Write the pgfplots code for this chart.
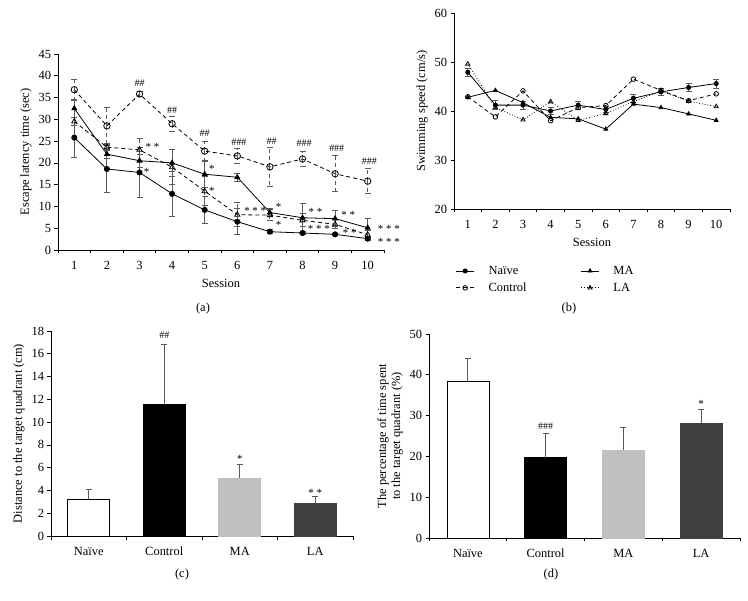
\documentclass[border=0pt]{standalone}
\usepackage{fontspec}
\setmainfont{Liberation Serif}
\usepackage{pgfplots}
\usepackage{pgfplotstable}
\pgfplotsset{compat=1.18}

\definecolor{errgray}{HTML}{5A5A5A}
\definecolor{lgray}{HTML}{C0C0C0}
\definecolor{dgray}{HTML}{404040}

% session means and errors, panel (a)
\pgfplotstableread{
s naive nerr ctrl cerr ma merr la lerr
1  25.8 4.6 36.8 2.4 32.5 2.0 29.5 1.0
2  18.6 5.3 28.5 4.2 22.0 1.0 23.6 0.8
3  17.8 5.7 35.8 0.6 20.5 1.5 23.0 2.6
4  12.9 5.1 29.0 1.7 20.0 3.0 19.0 4.0
5   9.2 3.0 22.7 2.3 17.4 3.1 13.5 3.3
6   6.5 3.0 21.6 1.7 16.7 0.9  8.1 2.8
7   4.2 0.5 19.1 4.4  8.6 1.0  8.0 1.3
8   3.9 0.4 20.9 1.7  7.4 3.2  6.8 1.5
9   3.6 0.3 17.5 4.1  7.2 1.9  5.9 1.0
10  2.6 0.4 15.8 2.9  5.1 2.2  3.5 1.0
}\latency

% swimming speed, panel (b)
\pgfplotstableread{
s naive nerr ctrl ma la
1  47.9 0.8 42.9 42.8 49.6
2  41.2 0.9 38.8 44.2 40.7
3  41.2 0.8 44.1 41.7 38.2
4  40.0 0.7 38.0 38.7 41.9
5  41.2 0.8 40.7 38.4 38.1
6  40.3 0.6 41.1 36.3 39.5
7  42.6 0.8 46.5 41.4 41.9
8  43.9 0.7 44.2 40.7 44.1
9  44.8 0.9 42.1 39.4 42.0
10 45.6 0.9 43.5 38.1 40.9
}\speed

\newcommand{\fs}{\fontsize{12.5}{14}\selectfont}

\pgfplotsset{
  panel/.style={
    scale only axis, anchor=south west,
    axis lines=left, axis line style={-, line width=0.7bp},
    tick align=outside, tick style={black, line width=0.7bp},
    major tick length=3.5bp, minor tick length=3.5bp,
    major x tick style={draw=none},
    /pgf/number format/assume math mode=true,
    ticklabel style={font=\fs},
    xticklabel style={yshift=-4bp},
    label style={font=\fs},
    xlabel style={yshift=-3bp},
    clip=false,
  },
  sess/.style={
    xmin=0.5, xmax=10.5, xtick={1,...,10},
    minor xtick={0.5,1.5,...,10.5},
    xlabel={Session},
  },
  cats/.style={
    xmin=0.5, xmax=4.5, xtick={1,2,3,4},
    minor xtick={0.5,1.5,2.5,3.5,4.5},
    xticklabels={Naïve, Control, MA, LA},
  },
  eb/.style={error bars/.cd, y dir=#1, y explicit,
    error bar style={errgray, line width=0.9bp},
    error mark options={rotate=90, errgray, mark size=3bp, line width=0.9bp}},
  bar/.style={ybar, bar width=42bp, bar shift=0pt, line width=0.7bp},
  ln/.style={black, line width=0.8bp},
}
\tikzset{
  ast/.style={anchor=base, yshift=-6bp, inner sep=0pt, font=\fontsize{11}{12}\selectfont},
  hsh/.style={inner sep=0pt, font=\fontsize{10}{11}\selectfont},
}

\begin{document}
\begin{tikzpicture}
\useasboundingbox (0,0) rectangle (748bp,601bp);

% (a) escape latency
\begin{axis}[panel, sess, at={(58bp,351bp)}, width=326bp, height=196bp,
  ymin=0, ymax=45, ytick={0,5,...,45},
  ylabel={Escape latency time (sec)}]
\addplot[ln, mark=*, mark size=2.6bp, eb=both] table[x=s, y=naive, y error=nerr] {\latency};
\addplot[ln, dashed, dash pattern=on 4bp off 3bp, mark=o, mark size=3.2bp, mark options={solid, fill=white}, eb=both] table[x=s, y=ctrl, y error=cerr] {\latency};
\addplot[ln, mark=triangle*, mark size=2.8bp, eb=both] table[x=s, y=ma, y error=merr] {\latency};
\addplot[ln, dashed, dash pattern=on 4bp off 3bp, mark=triangle, mark size=3bp, mark options={solid, fill=white}, eb=both] table[x=s, y=la, y error=lerr] {\latency};
\node[hsh] at (axis cs:3,38.2) {\#\#};
\node[hsh] at (axis cs:4,32.2) {\#\#};
\node[hsh] at (axis cs:5,26.9) {\#\#};
\node[hsh] at (axis cs:6.05,24.7) {\#\#\#};
\node[hsh] at (axis cs:7.05,25.0) {\#\#};
\node[hsh] at (axis cs:8.05,24.6) {\#\#\#};
\node[hsh] at (axis cs:9.05,23.4) {\#\#\#};
\node[hsh] at (axis cs:10.05,20.3) {\#\#\#};
\node[ast] at (axis cs:3.4,24.2) {* *};
\node[ast] at (axis cs:3.22,18.4) {*};
\node[ast] at (axis cs:5.22,19.2) {*};
\node[ast] at (axis cs:5.22,14.2) {*};
\node[ast] at (axis cs:6.55,9.6) {* * *};
\node[ast] at (axis cs:7.27,10.4) {*};
\node[ast] at (axis cs:7.27,6.3) {*};
\node[ast] at (axis cs:8.4,9.4) {* *};
\node[ast] at (axis cs:8.5,5.4) {* * *};
\node[ast] at (axis cs:9.4,8.5) {* *};
\node[ast] at (axis cs:9.45,4.4) {* *};
\node[ast] at (axis cs:10.65,5.5) {* * *};
\node[ast] at (axis cs:10.65,2.5) {* * *};
\end{axis}

% (b) swimming speed
\begin{axis}[panel, sess, at={(454bp,392bp)}, width=276bp, height=196bp,
  ymin=20, ymax=60, ytick={20,30,...,60},
  ylabel={Swimming speed (cm/s)},
  legend cell align=left,
  legend style={at={(-0.005,-0.27)}, anchor=north west, draw=none, fill=none,
    font=\fs, row sep=3bp,
    /tikz/every odd column/.append style={column sep=12bp},
    /tikz/every even column/.append style={column sep=52bp}},
  legend columns=2, transpose legend,
  legend image code/.code={\draw[mark repeat=2, mark phase=2, #1] plot coordinates {(0bp,0bp) (9bp,0bp) (18bp,0bp)};}]
\addplot[ln, mark=*, mark size=2.1bp, eb=both] table[x=s, y=naive, y error=nerr] {\speed};
\addlegendentry{Naïve}
\addplot[ln, dashed, dash pattern=on 4bp off 3bp, mark=o, mark size=2.3bp, mark options={solid, fill=white}] table[x=s, y=ctrl] {\speed};
\addlegendentry{Control}
\addplot[ln, mark=triangle*, mark size=2.2bp] table[x=s, y=ma] {\speed};
\addlegendentry{MA}
\addplot[ln, dotted, mark=triangle, mark size=2.4bp, mark options={solid, fill=white}] table[x=s, y=la] {\speed};
\addlegendentry{LA}
\end{axis}

% (c) distance to target quadrant
\begin{axis}[panel, cats, at={(51bp,65bp)}, width=302bp, height=205bp,
  ymin=0, ymax=18, ytick={0,2,...,18},
  ylabel={Distance to the target quadrant (cm)}]
\addplot[bar, fill=white, draw=black, eb=plus] coordinates {(1,3.25) +- (0,0.85)};
\addplot[bar, fill=black, draw=black, eb=plus] coordinates {(2,11.6) +- (0,5.25)};
\addplot[bar, fill=lgray, draw=lgray, eb=plus] coordinates {(3,5.1) +- (0,1.15)};
\addplot[bar, fill=dgray, draw=dgray, eb=plus] coordinates {(4,2.85) +- (0,0.65)};
\node[hsh] at (axis cs:2,17.6) {\#\#};
\node[ast] at (axis cs:3,7.0) {*};
\node[ast] at (axis cs:4,4.0) {* *};
\end{axis}

% (d) percentage of time in target quadrant
\begin{axis}[panel, cats, at={(429bp,63bp)}, width=311bp, height=204bp,
  ymin=0, ymax=50, ytick={0,10,...,50},
  ylabel={The percentage of time spent\\to the target quadrant (\%)},
  ylabel style={align=center}]
\addplot[bar, fill=white, draw=black, eb=plus] coordinates {(1,38.4) +- (0,5.6)};
\addplot[bar, fill=black, draw=black, eb=plus] coordinates {(2,19.7) +- (0,5.9)};
\addplot[bar, fill=lgray, draw=lgray, eb=plus] coordinates {(3,21.6) +- (0,5.5)};
\addplot[bar, fill=dgray, draw=dgray, eb=plus] coordinates {(4,28.1) +- (0,3.3)};
\node[hsh] at (axis cs:2,27.4) {\#\#\#};
\node[ast] at (axis cs:4,33.4) {*};
\end{axis}

\node[font=\fs] at (203bp,292bp) {(a)};
\node[font=\fs] at (569bp,292bp) {(b)};
\node[font=\fs] at (182bp,26bp) {(c)};
\node[font=\fs] at (551bp,26bp) {(d)};
\end{tikzpicture}
\end{document}
